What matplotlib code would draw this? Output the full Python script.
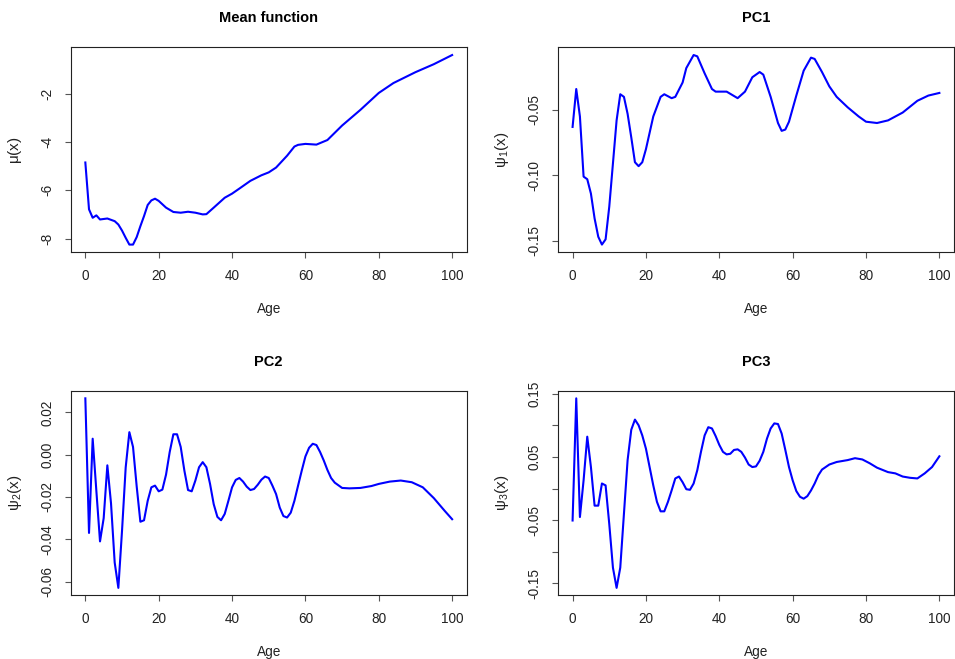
import matplotlib
matplotlib.use("Agg")
import matplotlib.pyplot as plt

plt.rcParams['font.family'] = ['Liberation Sans', 'DejaVu Sans']
plt.rcParams['mathtext.fontset'] = 'custom'
plt.rcParams['mathtext.rm'] = 'Liberation Sans'
plt.rcParams['mathtext.it'] = 'Liberation Sans'
plt.rcParams['axes.unicode_minus'] = False

# ---- data ----
mean_age = [0, 1, 2, 3, 4, 6, 8, 9, 10, 11, 12, 13, 14, 15, 16, 17, 18, 19, 20, 22, 24, 26, 28, 30,
            32, 33, 35, 38, 40, 42, 45, 48, 50, 52, 55, 57, 58, 60, 63, 66, 70, 75, 80, 84, 90, 95, 100]
mean_val = [-4.85, -6.79, -7.14, -7.04, -7.21, -7.17, -7.28, -7.42, -7.67, -7.97, -8.25, -8.25, -7.94,
            -7.49, -7.07, -6.61, -6.42, -6.35, -6.44, -6.72, -6.90, -6.93, -6.89, -6.93, -7.00, -6.99,
            -6.72, -6.31, -6.14, -5.93, -5.61, -5.38, -5.26, -5.06, -4.57, -4.19, -4.12, -4.08, -4.11,
            -3.92, -3.32, -2.67, -1.97, -1.56, -1.11, -0.78, -0.40]

pc1_age = [0, 1, 2, 3, 4, 5, 6, 7, 8, 9, 10, 11, 12, 13, 14, 15, 16, 17, 18, 19, 20, 22, 24, 25, 27,
           28, 30, 31, 33, 34, 36, 38, 39, 42, 45, 47, 49, 51, 52, 54, 56, 57, 58, 59, 61, 63, 65, 66,
           68, 70, 72, 75, 78, 80, 83, 86, 90, 94, 97, 100]
pc1_val = [-0.063, -0.034, -0.055, -0.101, -0.103, -0.114, -0.133, -0.147, -0.153, -0.149, -0.124,
           -0.091, -0.058, -0.038, -0.040, -0.053, -0.071, -0.090, -0.093, -0.090, -0.080, -0.055,
           -0.040, -0.038, -0.041, -0.040, -0.029, -0.018, -0.008, -0.009, -0.022, -0.034, -0.036,
           -0.036, -0.041, -0.036, -0.025, -0.021, -0.023, -0.040, -0.060, -0.066, -0.065, -0.059,
           -0.039, -0.020, -0.010, -0.011, -0.021, -0.032, -0.040, -0.048, -0.055, -0.059, -0.060,
           -0.058, -0.052, -0.043, -0.039, -0.037]

pc2_age = [0, 1, 2, 3, 4, 5, 6, 7, 8, 9, 10, 11, 12, 13, 14, 15, 16, 17, 18, 19, 20, 21, 22, 23, 24,
           25, 26, 27, 28, 29, 30, 31, 32, 33, 34, 35, 36, 37, 38, 39, 40, 41, 42, 43, 44, 45, 46, 47,
           48, 49, 50, 51, 52, 53, 54, 55, 56, 57, 58, 59, 60, 61, 62, 63, 64, 65, 66, 67, 68, 70, 72,
           75, 78, 80, 83, 86, 89, 92, 95, 98, 100]
pc2_val = [0.0267, -0.037, 0.0076, -0.017, -0.041, -0.030, -0.005, -0.023, -0.051, -0.063, -0.036,
           -0.006, 0.0107, 0.0037, -0.015, -0.0317, -0.031, -0.0218, -0.0154, -0.0146, -0.0173,
           -0.0165, -0.0094, 0.0013, 0.0097, 0.0097, 0.0037, -0.0075, -0.0167, -0.0173, -0.0122,
           -0.0059, -0.0035, -0.0059, -0.0138, -0.0234, -0.0294, -0.031, -0.028, -0.0218, -0.0154,
           -0.0119, -0.011, -0.0127, -0.0151, -0.0167, -0.0162, -0.0142, -0.0118, -0.0103, -0.011,
           -0.0146, -0.0186, -0.025, -0.029, -0.0297, -0.0274, -0.0218, -0.0146, -0.0075, -0.0008,
           0.0033, 0.0052, 0.0046, 0.0013, -0.0027, -0.0072, -0.011, -0.0132, -0.0157, -0.0159,
           -0.0157, -0.0148, -0.0138, -0.0127, -0.0122, -0.013, -0.0154, -0.0205, -0.0266, -0.0305]

pc3_age = [0, 1, 2, 3, 4, 5, 6, 7, 8, 9, 10, 11, 12, 13, 14, 15, 16, 17, 18, 19, 20, 21, 22, 23, 24,
           25, 26, 27, 28, 29, 30, 31, 32, 33, 34, 35, 36, 37, 38, 39, 40, 41, 42, 43, 44, 45, 46, 47,
           48, 49, 50, 51, 52, 53, 54, 55, 56, 57, 58, 59, 60, 61, 62, 63, 64, 65, 66, 67, 68, 70, 72,
           75, 77, 79, 81, 83, 86, 88, 90, 92, 94, 96, 98, 100]
pc3_val = [-0.0505, 0.1426, -0.045, 0.013, 0.082, 0.034, -0.027, -0.027, 0.008, 0.005, -0.056,
           -0.125, -0.157, -0.125, -0.040, 0.045, 0.093, 0.109, 0.100, 0.084, 0.063, 0.034, 0.005,
           -0.021, -0.036, -0.036, -0.021, -0.003, 0.016, 0.019, 0.010, -0.001, -0.002, 0.008, 0.029,
           0.058, 0.084, 0.097, 0.095, 0.083, 0.069, 0.058, 0.054, 0.055, 0.061, 0.062, 0.058, 0.049,
           0.038, 0.034, 0.035, 0.044, 0.058, 0.079, 0.095, 0.103, 0.102, 0.087, 0.061, 0.034, 0.013,
           -0.004, -0.013, -0.016, -0.012, -0.003, 0.008, 0.021, 0.030, 0.038, 0.042, 0.045, 0.048,
           0.046, 0.040, 0.033, 0.026, 0.024, 0.019, 0.017, 0.016, 0.024, 0.034, 0.051]

x_ticks = [0, 20, 40, 60, 80, 100]
x_labels = ['0', '20', '40', '60', '80', '100']

titles = ['Mean function', 'PC1', 'PC2', 'PC3']
ylabels = [r'$\mathregular{\mu(x)}$', r'$\mathregular{\psi_1(x)}$',
           r'$\mathregular{\psi_2(x)}$', r'$\mathregular{\psi_3(x)}$']
y_ticks = [[-2, -4, -6, -8],
           [-0.05, -0.10, -0.15],
           [0.02, 0.00, -0.02, -0.04, -0.06],
           [0.15, 0.10, 0.05, 0.00, -0.05, -0.10, -0.15]]
y_labels = [['-2', '-4', '-6', '-8'],
            ['-0.05', '-0.10', '-0.15'],
            ['0.02', '0.00', '-0.02', '-0.04', '-0.06'],
            ['0.15', '', '0.05', '', '-0.05', '', '-0.15']]

series = [(mean_age, mean_val), (pc1_age, pc1_val), (pc2_age, pc2_val), (pc3_age, pc3_val)]

fig, axes = plt.subplots(2, 2, figsize=(9.55, 6.59), dpi=100)
plt.subplots_adjust(left=0.074, right=0.999, top=0.928, bottom=0.0964, wspace=0.23, hspace=0.677)

dark = '#222222'
for ax, (xs, ys), t, yl, yt, ytl in zip(axes.flat, series, titles, ylabels, y_ticks, y_labels):
    ax.plot(xs, ys, color='#0000ff', lw=1.5)
    ax.set_xlim(-4, 104)
    lo, hi = min(ys), max(ys)
    pad = (hi - lo) * 0.04
    ax.set_ylim(lo - pad, hi + pad)
    ax.set_xticks(x_ticks)
    ax.set_xticklabels(x_labels)
    ax.set_yticks(yt)
    ax.set_yticklabels(ytl, rotation=90, va='center')
    ax.tick_params(axis='both', length=4.3, width=0.8, color='#555555', labelsize=9.8,
                   labelcolor=dark, pad=7.5)
    for s in ax.spines.values():
        s.set_linewidth(0.8)
        s.set_color(dark)
    ax.set_title(t, fontsize=10.5, fontweight='bold', pad=18, color='black')
    ax.set_xlabel('Age', fontsize=9.8, labelpad=14, color=dark)
    ax.set_ylabel(yl, fontsize=11, labelpad=12, color=dark)

fig.savefig('out.png', dpi=100)
